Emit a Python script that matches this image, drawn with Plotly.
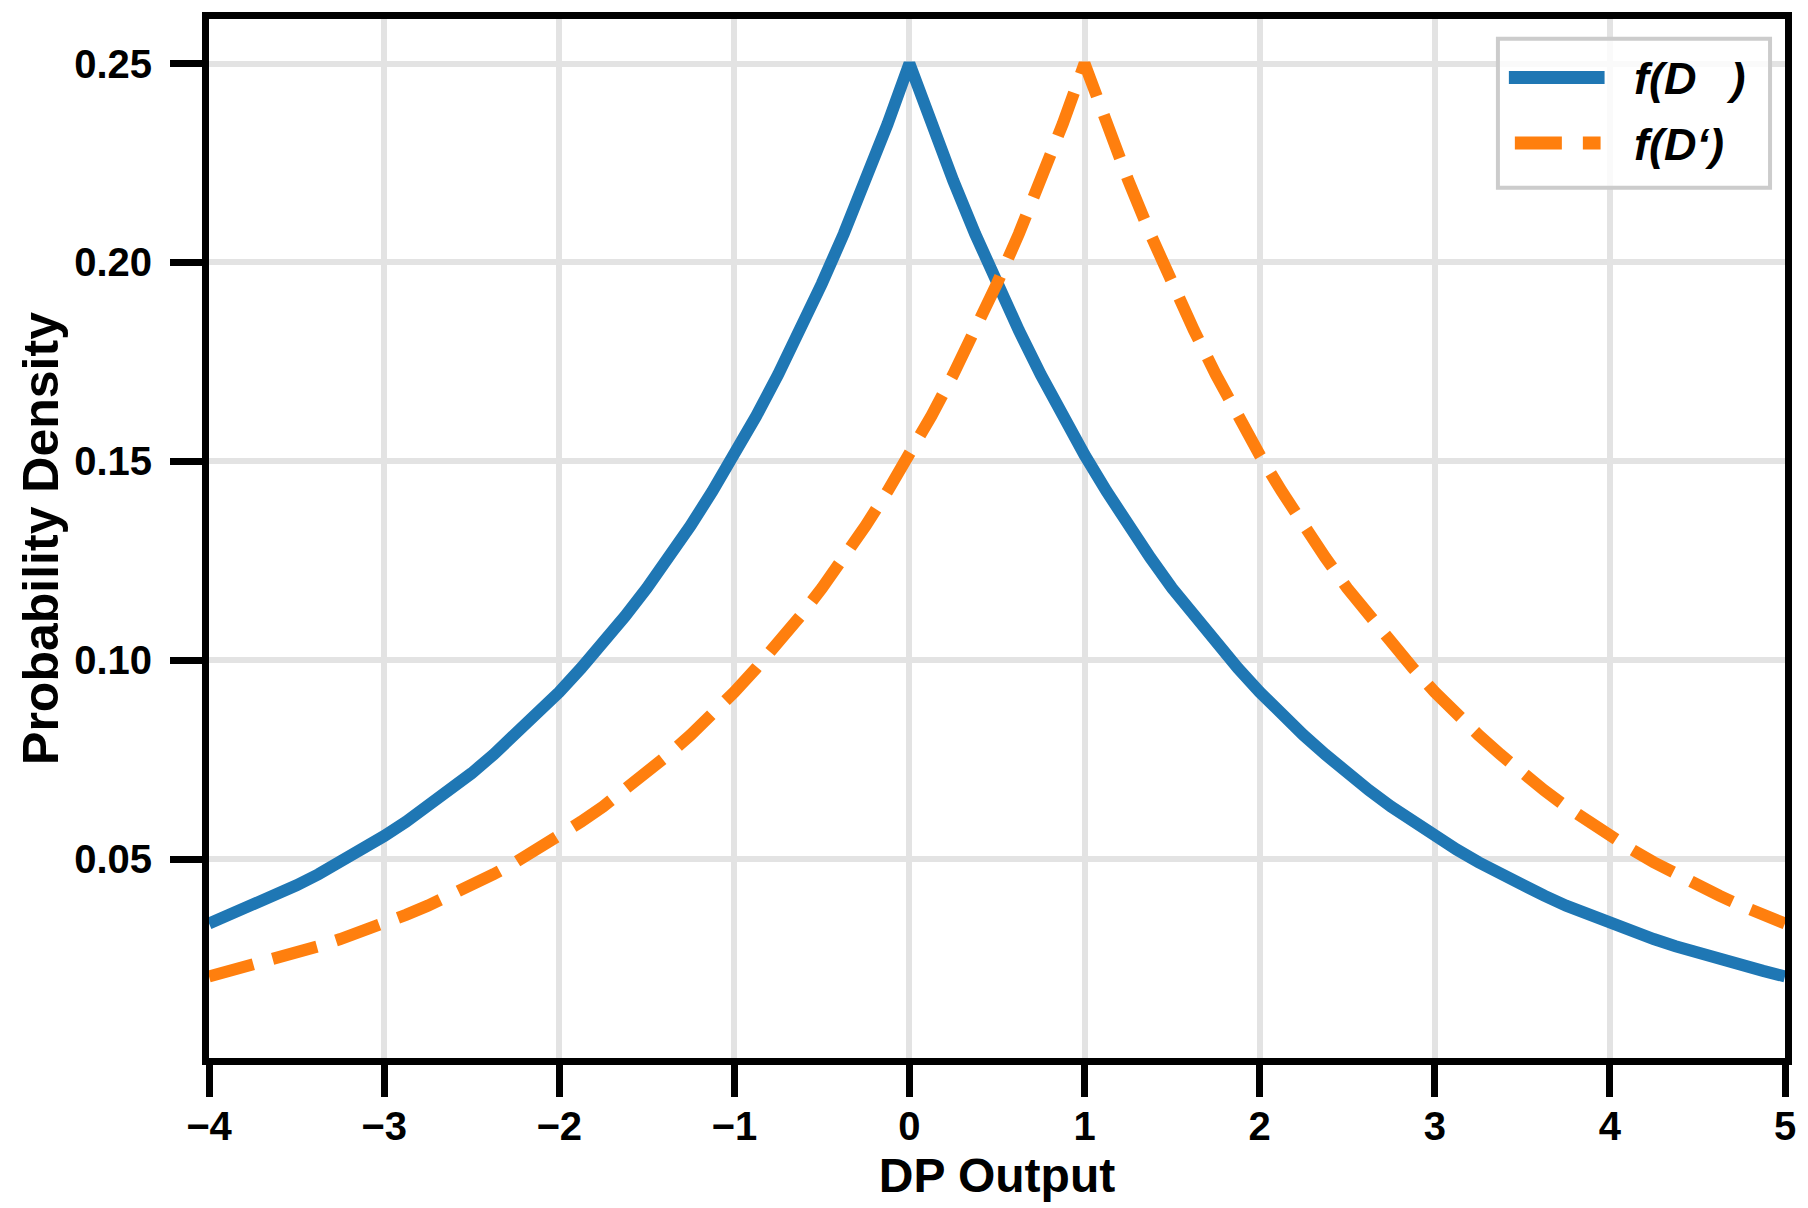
import plotly.graph_objects as go

# Data
x_vals = [-4.0, -3.875, -3.75, -3.625, -3.5, -3.375, -3.25, -3.125, -3.0, -2.875, -2.75, -2.625,
          -2.5, -2.375, -2.25, -2.125, -2.0, -1.875, -1.75, -1.625, -1.5, -1.375, -1.25, -1.125,
          -1.0, -0.875, -0.75, -0.625, -0.5, -0.375, -0.25, -0.125, 0.0, 0.125, 0.25, 0.375,
          0.5, 0.625, 0.75, 0.875, 1.0, 1.125, 1.25, 1.375, 1.5, 1.625, 1.75, 1.875,
          2.0, 2.125, 2.25, 2.375, 2.5, 2.625, 2.75, 2.875, 3.0, 3.125, 3.25, 3.375,
          3.5, 3.625, 3.75, 3.875, 4.0, 4.125, 4.25, 4.375, 4.5, 4.625, 4.75, 4.875, 5.0]
f_D = [0.0338, 0.0360, 0.0383, 0.0408, 0.0434, 0.0462, 0.0492, 0.0524, 0.0558, 0.0594, 0.0632, 0.0673,
       0.0716, 0.0763, 0.0812, 0.0864, 0.0920, 0.0980, 0.1042, 0.1110, 0.1181, 0.1258, 0.1338, 0.1425,
       0.1516, 0.1614, 0.1718, 0.1829, 0.1947, 0.2072, 0.2206, 0.2348, 0.2500, 0.2348, 0.2206, 0.2072,
       0.1947, 0.1829, 0.1718, 0.1614, 0.1516, 0.1425, 0.1338, 0.1258, 0.1181, 0.1110, 0.1042, 0.0980,
       0.0920, 0.0864, 0.0812, 0.0763, 0.0716, 0.0673, 0.0632, 0.0594, 0.0558, 0.0524, 0.0492, 0.0462,
       0.0434, 0.0408, 0.0383, 0.0360, 0.0338, 0.0318, 0.0299, 0.0281, 0.0264, 0.0248, 0.0233, 0.0219, 0.0205]
f_Dp = [0.0205, 0.0219, 0.0233, 0.0248, 0.0264, 0.0281, 0.0299, 0.0318, 0.0338, 0.0360, 0.0383, 0.0408,
        0.0434, 0.0462, 0.0492, 0.0524, 0.0558, 0.0594, 0.0632, 0.0673, 0.0716, 0.0763, 0.0812, 0.0864,
        0.0920, 0.0980, 0.1042, 0.1110, 0.1181, 0.1258, 0.1338, 0.1425, 0.1516, 0.1614, 0.1718, 0.1829,
        0.1947, 0.2072, 0.2206, 0.2348, 0.2500, 0.2348, 0.2206, 0.2072, 0.1947, 0.1829, 0.1718, 0.1614,
        0.1516, 0.1425, 0.1338, 0.1258, 0.1181, 0.1110, 0.1042, 0.0980, 0.0920, 0.0864, 0.0812, 0.0763,
        0.0716, 0.0673, 0.0632, 0.0594, 0.0558, 0.0524, 0.0492, 0.0462, 0.0434, 0.0408, 0.0383, 0.0360, 0.0338]
series_names = ["f(D\u00a0\u00a0\u2009)", "f(D\u2018)"]
x_ticks = [-4, -3, -2, -1, 0, 1, 2, 3, 4, 5]
y_ticks = [0.05, 0.10, 0.15, 0.20, 0.25]
y_tick_labels = ["0.05", "0.10", "0.15", "0.20", "0.25"]

BLUE = "#1f77b4"
ORANGE = "#ff7f0e"
FONT = "Liberation Sans"

fig = go.Figure()
fig.add_trace(go.Scatter(x=x_vals, y=f_D, mode="lines", name=series_names[0],
                         line=dict(color=BLUE, width=12), showlegend=False))
fig.add_trace(go.Scatter(x=x_vals, y=f_Dp, mode="lines", name=series_names[1],
                         line=dict(color=ORANGE, width=12, dash="46px,20px"), showlegend=False))

# Plot area in pixels
L, R, T, B = 209, 1790, 15, 1062
W, H = 1808, 1208

def px(xp):
    return (xp - L) / (R - L)

def py(yp):
    return (B - yp) / (B - T)

# Manual legend
fig.add_shape(type="rect", xref="paper", yref="paper",
              x0=px(1502), x1=px(1775), y0=py(185), y1=py(35),
              line=dict(color="#cccccc", width=4), fillcolor="rgba(255,255,255,0.8)", layer="above")
fig.add_shape(type="line", xref="paper", yref="paper",
              x0=px(1513), x1=px(1609), y0=py(74), y1=py(74),
              line=dict(color=BLUE, width=13), layer="above")
fig.add_shape(type="line", xref="paper", yref="paper",
              x0=px(1519), x1=px(1605), y0=py(140), y1=py(140),
              line=dict(color=ORANGE, width=13, dash="47px,21px"), layer="above")
for name, ypix in zip(series_names, [75, 141]):
    fig.add_annotation(xref="paper", yref="paper", x=px(1637), y=py(ypix),
                       xanchor="left", yanchor="middle", showarrow=False,
                       text="<b><i>" + name + "</i></b>",
                       font=dict(family=FONT, size=45, color="black"))

axis_common = dict(showline=True, linecolor="black", linewidth=7, mirror=True,
                   ticks="outside", ticklen=32, tickwidth=7, tickcolor="black",
                   showgrid=True, gridcolor="#e3e3e3", gridwidth=6, zeroline=False,
                   tickfont=dict(family=FONT, size=40, color="black", weight="bold"))

fig.update_xaxes(range=[-4, 5], tickvals=x_ticks,
                 ticktext=[("\u2212" + str(-v)) if v < 0 else str(v) for v in x_ticks],
                 title=dict(text="DP Output", font=dict(family=FONT, size=48, color="black", weight="bold"), standoff=14),
                 ticklabelstandoff=-5, **axis_common)
fig.update_yaxes(range=[0, 0.2612], tickvals=y_ticks, ticktext=y_tick_labels,
                 title=dict(text="Probability Density", font=dict(family=FONT, size=50, color="black", weight="bold"), standoff=2),
                 ticklabelstandoff=10, **axis_common)

fig.update_layout(width=W, height=H, plot_bgcolor="white", paper_bgcolor="white",
                  margin=dict(l=L, r=W - R, t=T, b=H - B),
                  font=dict(family=FONT, color="black"))

fig.write_html("out.html", config={"displayModeBar": False},
               post_script="document.body.style.margin='0';document.body.style.overflow='hidden';")
